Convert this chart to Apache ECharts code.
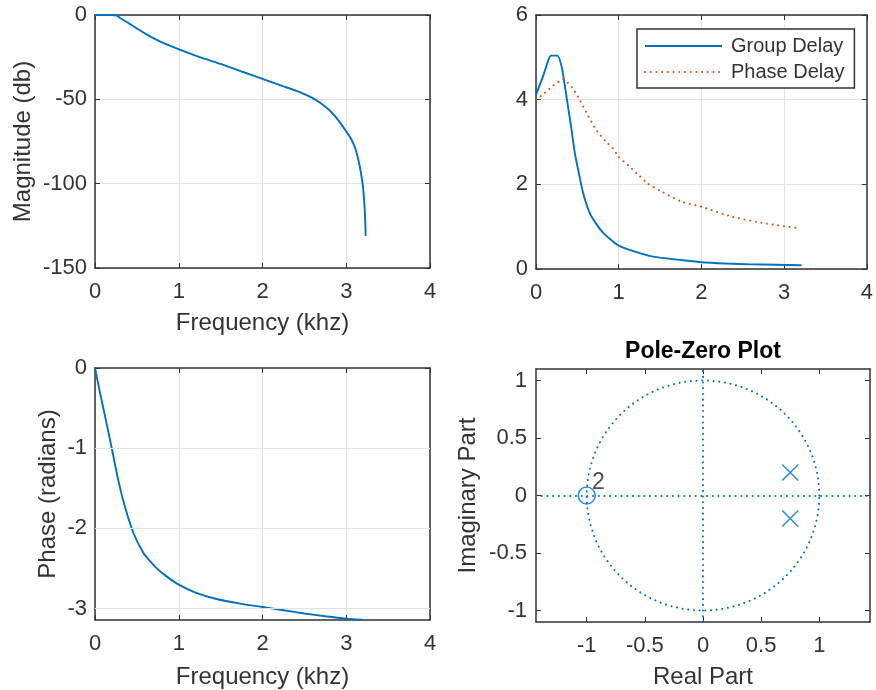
<!DOCTYPE html>
<html><head><meta charset="utf-8">
<script src="https://cdn.jsdelivr.net/npm/echarts@6/dist/echarts.min.js"></script>
<style>html,body{margin:0;padding:0;background:#fff}#c{width:876px;height:690px}</style>
</head><body><div id="c"></div>
<script>
// ---------- data ----------
const magFreq = [0, 0.1, 0.2, 0.26, 0.3, 0.4, 0.5, 0.6, 0.75, 0.9, 1.0, 1.25, 1.5, 1.75, 2.0, 2.25, 2.4, 2.5, 2.6, 2.7, 2.8, 2.9, 3.0, 3.05, 3.1, 3.15, 3.18, 3.2, 3.215, 3.225, 3.232];
const magDb   = [0, 0, 0, -0.3, -1.8, -4.8, -8, -11, -15, -18.3, -20.3, -25, -29, -33.5, -37.9, -42.3, -44.9, -46.9, -49.3, -52.5, -56.5, -62, -69, -72.8, -78, -87, -95, -102, -111, -120, -131];

const gdFreq = [0, 0.09, 0.15, 0.18, 0.26, 0.31, 0.35, 0.39, 0.43, 0.47, 0.51, 0.57, 0.65, 0.73, 0.81, 0.93, 1.0, 1.13, 1.37, 1.5, 1.76, 2.0, 2.3, 2.6, 2.9, 3.21];
const gdVal  = [4.12, 4.58, 4.94, 5.04, 5.04, 4.78, 4.31, 3.8, 3.28, 2.73, 2.34, 1.79, 1.32, 1.06, 0.86, 0.65, 0.55, 0.45, 0.31, 0.27, 0.21, 0.16, 0.13, 0.11, 0.1, 0.09];

const pdFreq = [0, 0.1, 0.2, 0.33, 0.45, 0.53, 0.63, 0.73, 0.85, 0.93, 1.0, 1.13, 1.25, 1.35, 1.5, 1.76, 2.0, 2.36, 2.76, 3.18];
const pdVal  = [4.0, 4.15, 4.32, 4.48, 4.25, 3.99, 3.62, 3.28, 3.0, 2.85, 2.65, 2.42, 2.2, 2.02, 1.85, 1.59, 1.47, 1.24, 1.08, 0.96];

const phFreq = [0, 0.06, 0.12, 0.2, 0.28, 0.36, 0.46, 0.58, 0.66, 0.75, 0.87, 1.0, 1.2, 1.45, 1.75, 2.0, 2.25, 2.5, 2.75, 3.0, 3.2];
const phVal  = [0, -0.31, -0.6, -1.0, -1.41, -1.74, -2.06, -2.31, -2.41, -2.51, -2.61, -2.7, -2.8, -2.88, -2.94, -2.98, -3.02, -3.06, -3.095, -3.125, -3.14];

const zeroRe = [-1];
const zeroIm = [0];
const zeroMult = ['2'];
const poleRe = [0.75, 0.75];
const poleIm = [0.2, -0.2];

const seriesNames = ['Group Delay', 'Phase Delay'];
const phaseTicks = [0, -1, -2, -3];
const pzTicks = [-1, -0.5, 0, 0.5, 1];

// ---------- styling ----------
const FONT = '"Liberation Sans", Arial, sans-serif';
const BLUE = '#0072BD', ORANGE = '#D95319';
const BOX = '#333333', GRIDC = '#e2e2e2', TXT = '#333333';
const DOTS = [0.1, 5.6];

const grids = [
  {left: 95, top: 15, width: 335, height: 253},
  {left: 536, top: 15, width: 334, height: 254},
  {left: 95, top: 368, width: 335, height: 256},
  {left: 536, top: 369, width: 334, height: 256}
];

function zip(a, b) { return a.map((v, i) => [v, b[i]]); }

function mainX(gi, cfg) {
  return Object.assign({
    type: 'value', gridIndex: gi, position: 'bottom',
    axisLine: {show: true, onZero: false, lineStyle: {color: BOX, width: 1.5}},
    axisTick: {show: true, inside: true, length: 5, lineStyle: {color: BOX}},
    axisLabel: {color: TXT, fontSize: 22, margin: 13, fontFamily: FONT},
    splitLine: {show: true, lineStyle: {color: GRIDC, width: 1}},
    nameLocation: 'middle', nameGap: 43,
    nameTextStyle: {color: TXT, fontSize: 24, fontFamily: FONT}
  }, cfg);
}
function mainY(gi, cfg) {
  return Object.assign({
    type: 'value', gridIndex: gi, position: 'left',
    axisLine: {show: true, onZero: false, lineStyle: {color: BOX, width: 1.5}},
    axisTick: {show: true, inside: true, length: 5, lineStyle: {color: BOX}},
    axisLabel: {color: TXT, fontSize: 22, margin: 8, fontFamily: FONT},
    splitLine: {show: true, lineStyle: {color: GRIDC, width: 1}},
    nameLocation: 'middle', nameGap: 58,
    nameTextStyle: {color: TXT, fontSize: 24, fontFamily: FONT}
  }, cfg);
}
function boxX(gi, cfg) {
  return Object.assign({
    type: 'value', gridIndex: gi, position: 'top',
    axisLine: {show: true, onZero: false, lineStyle: {color: BOX, width: 1.5}},
    axisTick: {show: true, inside: true, length: 5, lineStyle: {color: BOX}},
    axisLabel: {show: false}, splitLine: {show: false}
  }, cfg);
}
function boxY(gi, cfg) {
  return Object.assign({
    type: 'value', gridIndex: gi, position: 'right',
    axisLine: {show: true, onZero: false, lineStyle: {color: BOX, width: 1.5}},
    axisTick: {show: true, inside: true, length: 5, lineStyle: {color: BOX}},
    axisLabel: {show: false}, splitLine: {show: false}
  }, cfg);
}

// unit circle (geometric reference of the pole-zero plot)
const unitCircle = [];
for (let d = 0; d <= 360; d += 2) {
  const t = d * Math.PI / 180;
  unitCircle.push([Math.cos(t), Math.sin(t)]);
}

const PZX = 1.436, PZY = 1.1;
const pzLabel = {color: TXT, fontSize: 22, margin: 13, fontFamily: FONT, customValues: pzTicks};

const option = {
  animation: false,
  backgroundColor: '#ffffff',
  textStyle: {fontFamily: FONT},
  grid: grids,
  legend: {
    data: seriesNames,
    orient: 'vertical',
    left: 637, top: 29,
    padding: [7, 10, 6, 7],
    itemWidth: 77, itemHeight: 14, itemGap: 6,
    borderColor: BOX, borderWidth: 1.5,
    backgroundColor: '#fff',
    itemStyle: {opacity: 0},
    textStyle: {fontSize: 20, color: TXT, fontFamily: FONT, padding: [0, 0, 0, 4]}
  },
  xAxis: [
    mainX(0, {min: 0, max: 4, interval: 1, name: 'Frequency (khz)'}),
    boxX(0, {min: 0, max: 4, interval: 1}),
    mainX(1, {min: 0, max: 4, interval: 1}),
    boxX(1, {min: 0, max: 4, interval: 1}),
    mainX(2, {min: 0, max: 4, interval: 1, name: 'Frequency (khz)', nameGap: 45}),
    boxX(2, {min: 0, max: 4, interval: 1}),
    mainX(3, {min: -PZX, max: PZX, name: 'Real Part', splitLine: {show: false},
      axisLabel: pzLabel,
      axisTick: {show: true, inside: true, length: 5, lineStyle: {color: BOX}, customValues: pzTicks}}),
    boxX(3, {min: -PZX, max: PZX,
      axisTick: {show: true, inside: true, length: 5, lineStyle: {color: BOX}, customValues: pzTicks}})
  ],
  yAxis: [
    mainY(0, {min: -150, max: 0, interval: 50, name: 'Magnitude (db)', nameGap: 60}),
    boxY(0, {min: -150, max: 0, interval: 50}),
    mainY(1, {min: 0, max: 6, interval: 2}),
    boxY(1, {min: 0, max: 6, interval: 2}),
    mainY(2, {min: -Math.PI, max: 0, name: 'Phase (radians)', nameGap: 35, splitLine: {show: false},
      axisLabel: {color: TXT, fontSize: 22, margin: 8, fontFamily: FONT, customValues: phaseTicks},
      axisTick: {show: true, inside: true, length: 5, lineStyle: {color: BOX}, customValues: phaseTicks}}),
    boxY(2, {min: -Math.PI, max: 0,
      axisTick: {show: true, inside: true, length: 5, lineStyle: {color: BOX}, customValues: phaseTicks}}),
    mainY(3, {min: -PZY, max: PZY, name: 'Imaginary Part', nameGap: 56, splitLine: {show: false},
      axisLabel: {color: TXT, fontSize: 22, margin: 9, fontFamily: FONT, customValues: pzTicks},
      axisTick: {show: true, inside: true, length: 5, lineStyle: {color: BOX}, customValues: pzTicks}}),
    boxY(3, {min: -PZY, max: PZY,
      axisTick: {show: true, inside: true, length: 5, lineStyle: {color: BOX}, customValues: pzTicks}})
  ],
  graphic: [{
    type: 'text', x: 703, y: 352, z: 10,
    style: {text: 'Pole-Zero Plot', font: 'bold 23px ' + FONT, fill: '#000',
      textAlign: 'center', textVerticalAlign: 'middle'}
  }],
  series: [
    {type: 'line', xAxisIndex: 0, yAxisIndex: 0, data: zip(magFreq, magDb), smooth: 0.2,
      symbol: 'none', lineStyle: {color: BLUE, width: 1.9}, itemStyle: {color: BLUE}},
    {type: 'line', name: seriesNames[0], xAxisIndex: 2, yAxisIndex: 2, data: zip(gdFreq, gdVal), smooth: 0.2,
      symbol: 'none', lineStyle: {color: BLUE, width: 1.9}, itemStyle: {color: BLUE}},
    {type: 'line', name: seriesNames[1], xAxisIndex: 2, yAxisIndex: 2, data: zip(pdFreq, pdVal), smooth: 0.2,
      symbol: 'none', lineStyle: {color: ORANGE, width: 2, type: DOTS, cap: 'round'}, itemStyle: {color: ORANGE}},
    {type: 'line', xAxisIndex: 4, yAxisIndex: 4, data: [], symbol: 'none', z: 1, silent: true,
      markLine: {silent: true, symbol: ['none', 'none'], label: {show: false}, animation: false,
        lineStyle: {color: GRIDC, width: 1, type: 'solid'},
        emphasis: {disabled: true},
        data: phaseTicks.slice(1).map(v => ({yAxis: v}))}},
    {type: 'line', xAxisIndex: 4, yAxisIndex: 4, data: zip(phFreq, phVal), z: 3, smooth: 0.25,
      symbol: 'none', lineStyle: {color: BLUE, width: 1.9}, itemStyle: {color: BLUE}},
    {type: 'line', xAxisIndex: 6, yAxisIndex: 6, data: unitCircle, symbol: 'none', silent: true,
      lineStyle: {color: BLUE, width: 2, type: DOTS, cap: 'round'}},
    {type: 'line', xAxisIndex: 6, yAxisIndex: 6, data: [], symbol: 'none', silent: true,
      markLine: {silent: true, symbol: ['none', 'none'], label: {show: false}, animation: false,
        lineStyle: {color: BLUE, width: 2, type: DOTS, cap: 'round'},
        emphasis: {disabled: true},
        data: [{xAxis: 0}, {yAxis: 0}]}},
    {type: 'scatter', xAxisIndex: 6, yAxisIndex: 6, data: zeroRe.map((r, i) => [r, zeroIm[i], zeroMult[i]]),
      symbol: 'circle', symbolSize: 17, z: 5,
      itemStyle: {color: 'rgba(0,0,0,0)', borderColor: BLUE, borderWidth: 1.6},
      label: {show: true, position: 'right', distance: 5, offset: [-9, -13],
        formatter: p => p.data[2], fontSize: 23, color: '#222', fontFamily: FONT}},
    {type: 'scatter', xAxisIndex: 6, yAxisIndex: 6, data: zip(poleRe, poleIm),
      symbol: 'path://M0,0L10,10M10,0L0,10', symbolSize: 16, z: 5,
      itemStyle: {color: 'rgba(0,0,0,0)', borderColor: BLUE, borderWidth: 1.6}}
  ]
};

const chart = echarts.init(document.getElementById('c'), null, {renderer: 'canvas'});
chart.setOption(option);
</script>
</body></html>
